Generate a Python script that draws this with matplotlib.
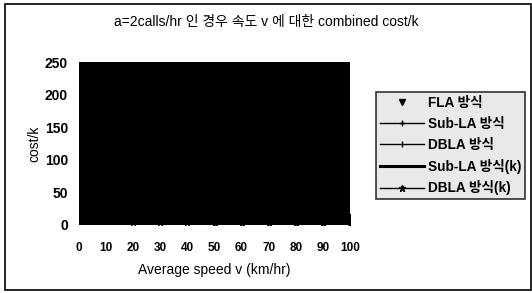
import matplotlib
matplotlib.use("Agg")
import matplotlib.pyplot as plt
from matplotlib.patches import Rectangle

plt.rcParams['font.family'] = ['Liberation Sans', 'Noto Sans CJK KR', 'DejaVu Sans']

speed = [0, 10, 20, 30, 40, 50, 60, 70, 80, 90, 100]
fla = [30, 24, 20, 18, 16, 15, 14, 13, 13, 12, 12]
sub_la = [22, 18, 15, 13, 12, 11, 10, 10, 9, 9, 9]
dbla = [18, 14, 12, 10, 9, 8, 8, 7, 7, 7, 6]
sub_la_k = [12, 10, 8, 7, 6, 6, 5, 5, 5, 4, 4]
dbla_k = [8, 6, 5, 4, 4, 3, 3, 3, 3, 3, 2]

labels = ['FLA 방식', 'Sub-LA 방식', 'DBLA 방식', 'Sub-LA 방식(k)', 'DBLA 방식(k)']
title = 'a=2calls/hr 인 경우 속도 v 에 대한 combined cost/k'

fig = plt.figure(figsize=(5.32, 2.93), dpi=100)
fig.patch.set_facecolor('white')
# outer border
fig.add_artist(Rectangle((5/532, 3/293), 526/532, 286/293, transform=fig.transFigure,
                         fill=False, edgecolor='black', linewidth=1.2))

ax = fig.add_axes([79/532, 1 - 225/293, (350 - 79)/532, (225 - 62)/293])
ax.set_facecolor('black')
l1, = ax.plot(speed, fla, linestyle='none', marker='v', color='black', markersize=4)
l2, = ax.plot(speed, sub_la, color='black', linewidth=1.0, marker='+', markersize=4)
l3, = ax.plot(speed, dbla, color='black', linewidth=1.0, marker='|', markersize=5)
l4, = ax.plot(speed, sub_la_k, color='black', linewidth=2.2)
l5, = ax.plot(speed, dbla_k, color='black', linewidth=1.0, marker='*', markersize=5)

ax.set_xlim(0, 100)
ax.set_ylim(0, 250)
ax.set_xticks(range(0, 101, 10))
ax.set_yticks(range(0, 251, 50))
ax.tick_params(axis='x', length=0, pad=12, labelsize=8.5)
ax.tick_params(axis='y', length=0, pad=8, labelsize=10)
for lab in ax.get_xticklabels() + ax.get_yticklabels():
    lab.set_fontweight('bold')
for s in ax.spines.values():
    s.set_visible(False)
ax.set_xlabel('Average speed v (km/hr)', fontsize=10, labelpad=7)
ax.set_ylabel('cost/k', fontsize=10, labelpad=2)

fig.text(0.5, 1 - 22/293, title, ha='center', va='center', fontsize=10)

leg = fig.legend([l1, l2, l3, l4, l5], labels, loc='upper left',
                 bbox_to_anchor=(376/532, 1 - 92/293),
                 prop={'size': 9.8, 'weight': 'bold'},
                 frameon=True, fancybox=False, handlelength=3.2,
                 borderpad=0.3, labelspacing=0.5, handletextpad=0.3,
                 borderaxespad=0)
leg.get_frame().set_facecolor('#e4e4e4')
leg.get_frame().set_edgecolor('black')
leg.get_frame().set_linewidth(1.2)

fig.savefig('out.png', dpi=100, facecolor='white')
